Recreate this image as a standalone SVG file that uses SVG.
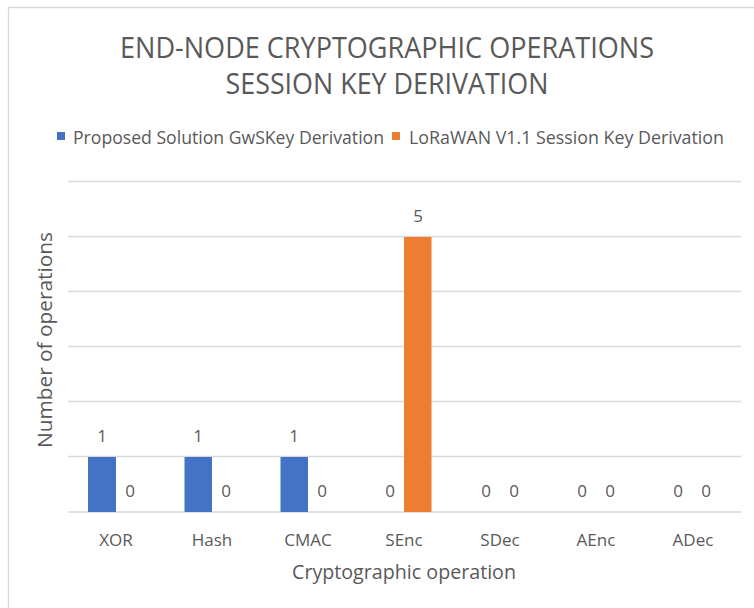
<svg xmlns="http://www.w3.org/2000/svg" width="754" height="608" viewBox="0 0 754 608">
<style>
text{font-family:"Open Sans","Noto Sans","Liberation Sans",sans-serif;fill:#595959}
.grid{stroke:#d9d9d9;stroke-width:1.3}
.blue{fill:#4472c4}
.orange{fill:#ed7d31}
.val{font-size:17px;text-anchor:middle}
.cat{font-size:17px;text-anchor:middle}
</style>
<rect x="0" y="0" width="754" height="608" fill="#ffffff"/>
<path d="M8.5 608 V7.5 H754" fill="none" stroke="#d9d9d9" stroke-width="1.3"/>
<g id="title">
<text x="387" y="58" font-size="28.5" text-anchor="middle" textLength="534" lengthAdjust="spacingAndGlyphs">END-NODE CRYPTOGRAPHIC OPERATIONS</text>
<text x="387" y="94" font-size="28.5" text-anchor="middle" textLength="323" lengthAdjust="spacingAndGlyphs">SESSION KEY DERIVATION</text>
</g>
<g id="legend">
<rect class="blue" x="57" y="132" width="8" height="8"/>
<text x="73" y="143.5" font-size="18" textLength="311" lengthAdjust="spacingAndGlyphs">Proposed Solution GwSKey Derivation</text>
<rect class="orange" x="392" y="132" width="8" height="8"/>
<text x="409" y="143.5" font-size="18" textLength="315" lengthAdjust="spacingAndGlyphs">LoRaWAN V1.1 Session Key Derivation</text>
</g>
<g id="gridlines">
<line class="grid" x1="68" y1="181.5" x2="741" y2="181.5"/>
<line class="grid" x1="68" y1="236.5" x2="741" y2="236.5"/>
<line class="grid" x1="68" y1="291.5" x2="741" y2="291.5"/>
<line class="grid" x1="68" y1="346.5" x2="741" y2="346.5"/>
<line class="grid" x1="68" y1="401.5" x2="741" y2="401.5"/>
<line class="grid" x1="68" y1="456.5" x2="741" y2="456.5"/>
<line class="grid" x1="68" y1="512" x2="741" y2="512"/>
</g>
<g id="bars">
<rect class="blue" x="88" y="457" width="28" height="55"/>
<rect class="blue" x="184.5" y="457" width="27.5" height="55"/>
<rect class="blue" x="280.5" y="457" width="27.5" height="55"/>
<rect class="orange" x="404" y="237" width="27.5" height="275"/>
</g>
<g id="values">
<text class="val" x="102" y="442">1</text>
<text class="val" x="130" y="497">0</text>
<text class="val" x="198" y="442">1</text>
<text class="val" x="226" y="497">0</text>
<text class="val" x="294" y="442">1</text>
<text class="val" x="322" y="497">0</text>
<text class="val" x="390" y="497">0</text>
<text class="val" x="418" y="222">5</text>
<text class="val" x="486" y="497">0</text>
<text class="val" x="514" y="497">0</text>
<text class="val" x="582" y="497">0</text>
<text class="val" x="610" y="497">0</text>
<text class="val" x="678" y="497">0</text>
<text class="val" x="706" y="497">0</text>
</g>
<g id="categories">
<text class="cat" x="116" y="546">XOR</text>
<text class="cat" x="212" y="546">Hash</text>
<text class="cat" x="308" y="546">CMAC</text>
<text class="cat" x="404" y="546">SEnc</text>
<text class="cat" x="500" y="546">SDec</text>
<text class="cat" x="596" y="546">AEnc</text>
<text class="cat" x="693" y="546">ADec</text>
</g>
<g id="axis-titles">
<text x="404" y="579" font-size="19.5" text-anchor="middle" textLength="224" lengthAdjust="spacingAndGlyphs">Cryptographic operation</text>
<text transform="translate(52 340) rotate(-90)" font-size="19.5" text-anchor="middle" textLength="216" lengthAdjust="spacingAndGlyphs">Number of operations</text>
</g>
</svg>
